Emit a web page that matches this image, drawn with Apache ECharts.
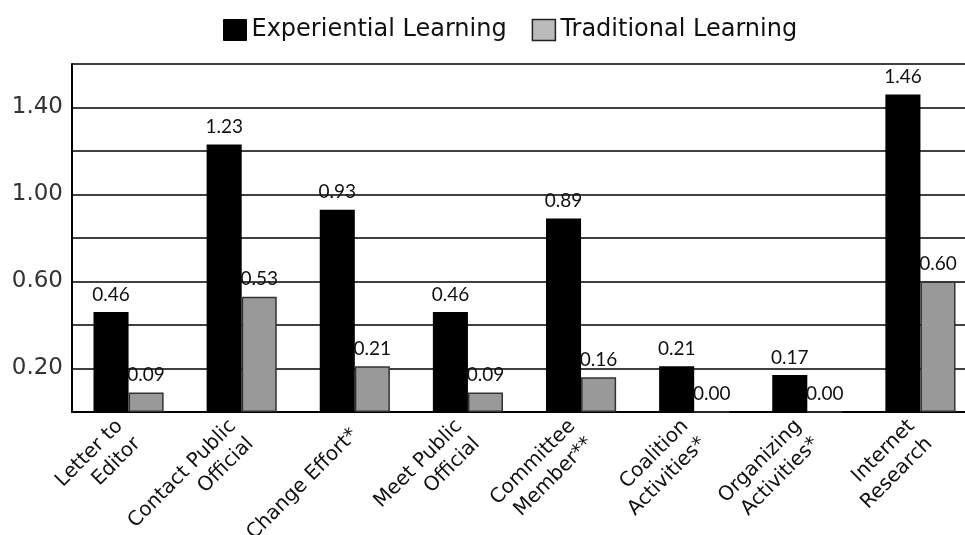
<!DOCTYPE html>
<html><head><meta charset="utf-8">
<script src="https://cdn.jsdelivr.net/npm/echarts@6/dist/echarts.min.js"></script>
<style>html,body{margin:0;padding:0;background:#fff}#c{width:965px;height:535px}</style>
</head><body><div id="c"></div>
<script>
const categories = ["Letter to\nEditor","Contact Public\nOfficial","Change Effort*","Meet Public\nOfficial","Committee\nMember**","Coalition\nActivities*","Organizing\nActivities*","Internet\nResearch"];
const experiential = [0.46,1.23,0.93,0.46,0.89,0.21,0.17,1.46];
const traditional = [0.09,0.53,0.21,0.09,0.16,0.00,0.00,0.60];
const yTickLabels = ["0.20","0.60","1.00","1.40"];
const seriesNames = ["Experiential Learning","Traditional Learning"];
const FONT = "DejaVu Sans";
const chart = echarts.init(document.getElementById('c'));
chart.setOption({
  animation:false,
  textStyle:{fontFamily:FONT},
  legend:{top:13,left:218,itemWidth:23,itemHeight:21,itemGap:25,icon:'rect',
    textStyle:{fontSize:24,color:'#111',fontFamily:FONT},
    data:[{name:seriesNames[0],itemStyle:{color:'#000',borderColor:'#000',borderWidth:1}},
          {name:seriesNames[1],itemStyle:{color:'#bbb',borderColor:'#222',borderWidth:1.5}}]},
  grid:{left:72,right:-12,top:64,bottom:123,outerBoundsMode:'none',containLabel:false},
  xAxis:{type:'category',data:categories,
    axisLine:{lineStyle:{color:'#000',width:2}},axisTick:{show:false},
    axisLabel:{rotate:45,fontSize:20,color:'#111',lineHeight:25,margin:20,interval:0,fontFamily:FONT}},
  yAxis:{type:'value',min:0,max:1.6,interval:0.2,
    axisLine:{show:true,lineStyle:{color:'#000',width:2}},axisTick:{show:false},
    splitLine:{lineStyle:{color:'#000',width:1.5}},
    axisLabel:{fontSize:23,color:'#333',margin:9,fontFamily:FONT,
      formatter:function(v){const s=v.toFixed(2);return yTickLabels.indexOf(s)>=0?s:'';}}},
  series:[
    {name:seriesNames[0],type:'bar',data:experiential,barGap:'0%',barCategoryGap:'38%',
      itemStyle:{color:'#000'},
      label:{show:true,position:'top',fontSize:19,fontFamily:'Lato',color:'#111',distance:8,formatter:p=>p.value.toFixed(2)}},
    {name:seriesNames[1],type:'bar',data:traditional,
      itemStyle:{color:'#999',borderColor:'#333',borderWidth:1.5},
      label:{show:true,position:'top',fontSize:19,fontFamily:'Lato',color:'#111',distance:8,formatter:p=>p.value.toFixed(2)}}
  ]
});
</script></body></html>
